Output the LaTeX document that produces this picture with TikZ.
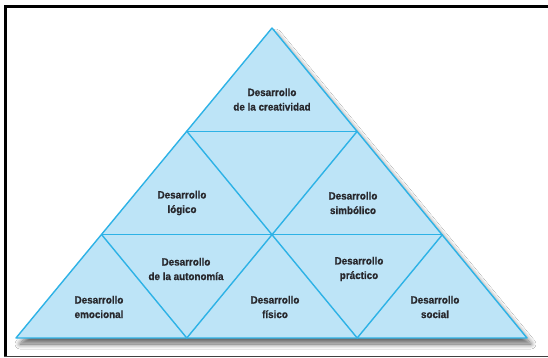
\documentclass[tikz,border=0pt]{standalone}
\usepackage{fontspec}
\setmainfont{Liberation Sans}
\newfontfamily\lblfont[FakeStretch=0.93,BoldFeatures={FakeBold=0.8}]{Liberation Sans}
\usetikzlibrary{shadows.blur}
\definecolor{tfill}{RGB}{189,228,247}
\definecolor{tline}{RGB}{45,178,230}
\definecolor{ttext}{RGB}{40,40,45}
\begin{document}
\begin{tikzpicture}[x=1pt,y=-1pt,
  lbl/.style={font=\lblfont\fontsize{10.6}{14.5}\selectfont\bfseries, text=ttext, align=center, inner sep=0pt},
  edge/.style={draw=tline, line width=1.4pt, line join=round, line cap=round}]
\useasboundingbox (0,0) rectangle (548,358);
\fill[white] (0,0) rectangle (548,358);
% frame
\fill[black] (4,5.5) rectangle (548,8.2);
\fill[black] (4,5.5) rectangle (7.3,357);
\fill[black!75] (4,355.6) rectangle (548,357);
% grid points
\coordinate (A) at (272,28);
\coordinate (L1) at (186.8,131.3);
\coordinate (R1) at (357.2,131.3);
\coordinate (L2) at (101.7,234.7);
\coordinate (C2) at (272,234.7);
\coordinate (R2) at (442.3,234.7);
\coordinate (B0) at (16,338);
\coordinate (B1) at (186.8,338);
\coordinate (B2) at (357.2,338);
\coordinate (B3) at (527,338);
% pyramid body with shadow
\fill[tfill, blur shadow={shadow xshift=4pt, shadow yshift=-6pt, shadow blur steps=12, shadow blur radius=5pt, shadow opacity=60}] (A) -- (B0) -- (B3) -- cycle;
% lines
\draw[edge] (A) -- (B0) -- (B3) -- cycle;
\draw[edge] (L1) -- (R1);
\draw[edge] (L2) -- (R2);
\draw[edge] (L1) -- (C2) -- (B2);
\draw[edge] (R1) -- (C2) -- (B1);
\draw[edge] (L2) -- (B1);
\draw[edge] (R2) -- (B2);
% labels
\node[lbl] (crea) at (272,99.5) {Desarrollo\\de la creatividad};
\node[lbl] (logi) at (182,203) {Desarrollo\\lógico};
\node[lbl] (simb) at (353,203) {Desarrollo\\simbólico};
\node[lbl] (auto) at (186,269) {Desarrollo\\de la autonomía};
\node[lbl] (prac) at (359,269) {Desarrollo\\práctico};
\node[lbl] (emoc) at (99,307) {Desarrollo\\emocional};
\node[lbl] (fisi) at (275,307) {Desarrollo\\físico};
\node[lbl] (soci) at (435,307) {Desarrollo\\social};
\end{tikzpicture}
\end{document}
